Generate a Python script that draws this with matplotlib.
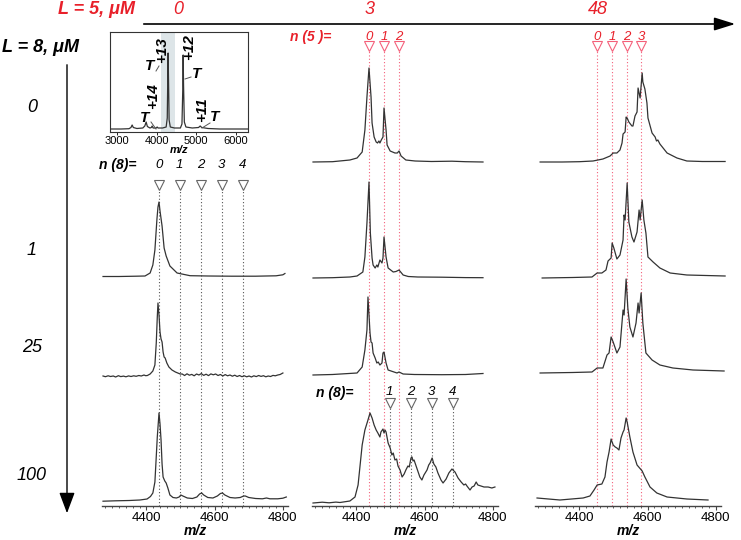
import numpy as np
import matplotlib
matplotlib.use('Agg')
import matplotlib.pyplot as plt
from matplotlib.ticker import MultipleLocator
from matplotlib.patches import FancyArrowPatch
from matplotlib.lines import Line2D

plt.rcParams['font.family'] = ['Liberation Sans', 'DejaVu Sans']

W, H = 741, 540
RED = '#e8202a'
PINK = '#f4607a'
TRACE = '#333333'

# ---- data: (m/z, intensity), one array per spectrum ----
# column = L5 concentration (0, 3, 48 uM), row = L8 concentration (0, 1, 25, 100 uM)
s_0_1 = np.array([(4273, 0.5), (4320, 0.5), (4370, 0.8), (4396, 1.0), (4411, 4), (4419, 12),
                  (4425, 27), (4431, 58), (4434, 70), (4437, 75), (4440, 66), (4446, 51),
                  (4452, 29), (4458, 21), (4469, 11), (4490, 4), (4528, 1.3), (4580, 1.0),
                  (4650, 0.8), (4720, 0.8), (4780, 1.2), (4800, 2.2), (4806, 3.5)])

s_0_25 = np.array([(4273, 1.0), (4280, 0.3), (4288, 1.2), (4295, 0.5), (4303, 1.0), (4310, 0.0),
                   (4318, 1.3), (4325, 0.4), (4333, 0.9), (4340, 0.2), (4348, 1.1), (4355, 0.5),
                   (4363, 1.2), (4370, 0.7), (4378, 1.5), (4385, 1.0), (4393, 2.0), (4398, 1.3),
                   (4403, 1.5), (4411, 3), (4419, 6), (4425, 12), (4429, 34), (4432, 60),
                   (4434, 74), (4437, 62), (4440, 45), (4443, 38), (4446, 35), (4449, 25),
                   (4452, 20), (4455, 19), (4460, 14), (4466, 10), (4475, 7), (4485, 5),
                   (4499, 3), (4505, 3.0), (4512, 1.5), (4519, 3.2), (4526, 1.8), (4533, 2.6),
                   (4540, 1.2), (4547, 3.0), (4554, 2.0), (4561, 3.4), (4568, 1.6), (4575, 2.8),
                   (4582, 1.4), (4589, 3.1), (4596, 2.2), (4603, 3.0), (4610, 1.5), (4617, 2.5),
                   (4624, 1.0), (4631, 2.4), (4638, 1.2), (4645, 2.0), (4652, 0.8), (4659, 1.8),
                   (4666, 0.5), (4673, 1.5), (4680, 0.3), (4687, 1.2), (4694, 0.2), (4701, 1.0),
                   (4708, 0.0), (4715, 1.2), (4722, 0.4), (4729, 1.5), (4736, 0.6), (4743, 1.3),
                   (4750, 0.2), (4757, 1.0), (4764, 0.5), (4771, 1.6), (4778, 1.2), (4785, 2.0),
                   (4792, 2.5), (4800, 4.0)])

s_0_100 = np.array([(4273, 0.8), (4310, 1.2), (4350, 1.5), (4381, 2.0), (4402, 3.0), (4412, 5.5),
                    (4419, 9), (4425, 20), (4428, 39), (4432, 65), (4437, 89), (4440, 78),
                    (4443, 62), (4446, 38), (4449, 25), (4454, 21), (4458, 19), (4463, 14),
                    (4469, 7), (4478, 4.5), (4488, 4), (4496, 5), (4501, 7), (4507, 6),
                    (4520, 4), (4535, 3.5), (4548, 5), (4556, 8), (4562, 9), (4568, 7),
                    (4580, 4.5), (4595, 4), (4608, 6), (4617, 8.5), (4623, 9), (4630, 7),
                    (4645, 4.5), (4660, 4), (4675, 4.5), (4685, 6), (4690, 6), (4700, 4.5),
                    (4720, 3.5), (4740, 3.2), (4752, 4), (4762, 3.2), (4785, 3.2), (4800, 3.8),
                    (4810, 5.0)])

s_3_0 = np.array([(4273, 0), (4330, 0.3), (4381, 2), (4402, 4), (4417, 10), (4425, 32),
                  (4431, 65), (4437, 94), (4443, 65), (4446, 39), (4452, 25), (4458, 20),
                  (4462, 19), (4466, 21), (4469, 19), (4473, 22), (4478, 25), (4481, 54),
                  (4487, 32), (4490, 17), (4499, 11), (4513, 9), (4520, 9), (4525, 11),
                  (4531, 6), (4545, 2), (4572, 1), (4620, 0.5), (4680, 0.8), (4720, 0.3),
                  (4771, 0)])

s_3_1 = np.array([(4273, 0), (4330, 0.3), (4381, 1.0), (4402, 2), (4419, 6), (4425, 21),
                  (4431, 55), (4437, 96), (4441, 45), (4446, 20), (4449, 13), (4455, 10),
                  (4460, 13), (4463, 11), (4469, 18), (4475, 15), (4478, 20), (4481, 41),
                  (4487, 21), (4493, 10), (4508, 6), (4516, 6.5), (4525, 8), (4537, 3),
                  (4552, 1.5), (4580, 1), (4650, 0.8), (4720, 0.4), (4771, 0.3)])

s_3_25 = np.array([(4273, 0), (4330, 0.5), (4402, 2), (4417, 8), (4425, 25), (4431, 45),
                   (4434, 78), (4440, 42), (4443, 33), (4446, 32), (4449, 22), (4455, 17),
                   (4460, 12), (4464, 13), (4469, 10), (4475, 12), (4478, 22), (4481, 23),
                   (4487, 12), (4493, 5), (4519, 2), (4525, 3), (4537, 1), (4570, 0.5),
                   (4650, 0.3), (4720, 0.5), (4771, 1.5)])

s_3_100 = np.array([(4273, 0), (4300, 0.8), (4320, 0.2), (4340, 0.9), (4352, 0.5), (4381, 2),
                    (4396, 6), (4405, 18), (4411, 38), (4417, 58), (4425, 73), (4434, 83),
                    (4440, 90), (4446, 85), (4452, 78), (4458, 73), (4463, 70), (4469, 66),
                    (4472, 71), (4478, 74), (4481, 70), (4484, 73), (4487, 71), (4493, 60),
                    (4499, 55), (4504, 48), (4508, 50), (4513, 43), (4518, 44), (4522, 37),
                    (4528, 33), (4534, 26), (4540, 29), (4545, 33), (4551, 37), (4555, 36),
                    (4560, 45), (4563, 46), (4566, 42), (4569, 43), (4575, 37), (4581, 31),
                    (4586, 26), (4592, 23), (4598, 28), (4607, 33), (4612, 38), (4616, 40),
                    (4622, 45), (4627, 39), (4633, 36), (4639, 30), (4648, 23), (4654, 20),
                    (4663, 24), (4671, 30), (4680, 34), (4689, 31), (4698, 25), (4707, 21),
                    (4715, 18), (4720, 19), (4724, 17), (4733, 13), (4739, 16), (4745, 17),
                    (4751, 21), (4756, 18), (4765, 17), (4774, 16), (4786, 16), (4797, 15),
                    (4806, 16)])

s_48_0 = np.array([(4285, 0), (4350, 0), (4400, 0.3), (4440, 1), (4469, 3), (4490, 6),
                   (4499, 9), (4510, 9), (4519, 12), (4525, 19), (4528, 28), (4534, 30),
                   (4537, 45), (4540, 44), (4545, 40), (4554, 36), (4557, 36), (4563, 46),
                   (4569, 50), (4572, 74), (4578, 64), (4584, 89), (4586, 80), (4592, 73),
                   (4598, 59), (4601, 44), (4613, 29), (4622, 25), (4626, 21), (4630, 22),
                   (4636, 18), (4657, 9), (4686, 4), (4715, 1), (4760, 0.5), (4827, 0.5)])

s_48_1 = np.array([(4291, 0), (4380, 0.5), (4437, 1), (4452, 5), (4466, 5), (4478, 8),
                   (4484, 17), (4493, 20), (4496, 35), (4501, 30), (4510, 19), (4519, 23),
                   (4528, 38), (4531, 63), (4534, 58), (4540, 95), (4545, 56), (4554, 41),
                   (4560, 36), (4569, 46), (4575, 68), (4578, 58), (4584, 78), (4589, 58),
                   (4595, 45), (4601, 21), (4616, 16), (4636, 10), (4666, 5), (4715, 3),
                   (4827, 2)])

s_48_25 = np.array([(4285, 0), (4380, 0.5), (4437, 1), (4452, 5), (4469, 5), (4481, 18),
                    (4487, 20), (4493, 36), (4499, 31), (4510, 20), (4519, 26), (4528, 63),
                    (4531, 58), (4537, 94), (4542, 65), (4548, 46), (4557, 36), (4566, 50),
                    (4572, 70), (4575, 60), (4581, 80), (4586, 50), (4595, 20), (4613, 13),
                    (4636, 8), (4674, 5), (4733, 3), (4824, 2)])

s_48_100 = np.array([(4276, 3), (4343, 1), (4411, 3), (4431, 5), (4443, 11), (4452, 16),
                     (4466, 17), (4475, 24), (4481, 39), (4487, 49), (4493, 62), (4499, 56),
                     (4505, 54), (4510, 53), (4516, 51), (4522, 63), (4528, 69), (4531, 71),
                     (4537, 83), (4540, 79), (4548, 64), (4557, 49), (4569, 36), (4584, 30),
                     (4592, 24), (4607, 14), (4627, 8), (4657, 4), (4715, 2), (4777, 1)])

# full-range spectrum of the protein alone (inset)
s_full = np.array([(2830, 1), (3100, 1), (3300, 1.3), (3350, 2.5), (3380, 5), (3410, 2.5),
                   (3500, 1.5), (3650, 2), (3700, 4), (3734, 8), (3765, 3.5), (3830, 2),
                   (3865, 2.5), (3886, 4), (3910, 2), (3990, 2), (4012, 3), (4035, 2),
                   (4150, 2), (4240, 3), (4268, 12), (4282, 55), (4290, 77), (4300, 50),
                   (4315, 10), (4345, 3), (4450, 2), (4600, 2), (4640, 6), (4660, 40),
                   (4670, 75), (4680, 45), (4700, 8), (4740, 3), (4900, 2), (5060, 2.5),
                   (5100, 4), (5140, 2.5), (5300, 1.5), (5600, 1), (6000, 1), (6300, 1)])
selected_window = (4113, 4467)

col_labels = ['0', '3', '48']
row_labels = ['0', '1', '25', '100']
n8_mz = [4436, 4498, 4560, 4621, 4683]
n5_mz_col2 = [4437, 4481, 4525]
n5_mz_col3 = [4452, 4496, 4540, 4581]

spectra = {(0, 1): s_0_1, (0, 2): s_0_25, (0, 3): s_0_100,
           (1, 0): s_3_0, (1, 1): s_3_1, (1, 2): s_3_25, (1, 3): s_3_100,
           (2, 0): s_48_0, (2, 1): s_48_1, (2, 2): s_48_25, (2, 3): s_48_100}

# ---- layout (pixel positions in the 741x540 picture) ----
col_x0 = [102, 312, 535]
AXW = 186
AXB = 506            # y of the m/z axis line
row_off = {(0, 1): 229, (0, 2): 129, (0, 3): 4,
           (1, 0): 344, (1, 1): 228, (1, 2): 131, (1, 3): 3,
           (2, 0): 344, (2, 1): 228, (2, 2): 133, (2, 3): 5}


def fp(x, y):
    return x / W, 1 - y / H


def yd(y):
    # picture y -> data height above the axis
    return AXB - y


fig = plt.figure(figsize=(W / 100, H / 100), dpi=100)

axes = []
for c, x0 in enumerate(col_x0):
    ax = fig.add_axes([x0 / W, 1 - AXB / H, AXW / W, AXB / H])
    ax.set_xlim(4270, 4815)
    ax.set_ylim(0, AXB)
    ax.patch.set_visible(False)
    for s in ('top', 'left', 'right'):
        ax.spines[s].set_visible(False)
    ax.spines['bottom'].set_color('#444444')
    ax.spines['bottom'].set_linewidth(1.0)
    ax.set_yticks([])
    ax.xaxis.set_major_locator(MultipleLocator(200))
    ax.xaxis.set_minor_locator(MultipleLocator(20))
    ax.tick_params(axis='x', which='major', length=3, width=0.8, color='#444444',
                   labelsize=9.5, pad=1.5)
    ax.tick_params(axis='x', which='minor', length=1.5, width=0.6, color='#444444')
    ax.set_xlabel('m/z', fontsize=10, fontweight='bold', fontstyle='italic', labelpad=0)
    axes.append(ax)

dots = (0, (1, 2))

# n(8) markers, column 1
ax = axes[0]
for k, m in enumerate(n8_mz):
    ax.vlines(m, 0, yd(189), colors='#555555', linestyles=dots, lw=0.8)
    ax.plot(m, yd(185), 'v', ms=6.5, mfc='white', mec='#666666', mew=0.8, clip_on=False)
    ax.text(m, yd(165), str(k), ha='center', va='center', style='italic', fontsize=9.5)
fig.text(*fp(118, 165), 'n (8)=', ha='center', va='center', fontsize=10,
         fontweight='bold', style='italic')

# n(5) markers, columns 2 and 3
for ax, marks in ((axes[1], n5_mz_col2), (axes[2], n5_mz_col3)):
    for k, m in enumerate(marks):
        ax.vlines(m, 0, yd(50), colors=PINK, linestyles=dots, lw=0.8)
        ax.plot(m, yd(46), 'v', ms=6.5, mfc='white', mec=PINK, mew=0.8, clip_on=False)
        ax.text(m, yd(37), str(k), ha='center', va='center', style='italic',
                fontsize=9.5, color=RED)
fig.text(*fp(311, 37), 'n (5 )=', ha='center', va='center', fontsize=10,
         fontweight='bold', style='italic', color=RED)

# n(8) markers, column 2 bottom
ax = axes[1]
for k, m in enumerate(n8_mz[1:], start=1):
    ax.vlines(m, 0, yd(407), colors='#555555', linestyles=dots, lw=0.8)
    ax.plot(m, yd(403), 'v', ms=6.5, mfc='white', mec='#666666', mew=0.8, clip_on=False)
    ax.text(m, yd(392), str(k), ha='center', va='center', style='italic', fontsize=9.5)
fig.text(*fp(335, 393), 'n (8)=', ha='center', va='center', fontsize=10,
         fontweight='bold', style='italic')

# spectra
for (c, r), sp in spectra.items():
    axes[c].plot(sp[:, 0], sp[:, 1] + row_off[(c, r)], color=TRACE, lw=0.9,
                 clip_on=False, zorder=3)

# inset: full spectrum
ax_in = fig.add_axes([110 / W, 1 - 132 / H, 138 / W, 100 / H])
ax_in.set_facecolor('white')
ax_in.axvspan(*selected_window, color='#dde5e8', lw=0)
ax_in.plot(s_full[:, 0], s_full[:, 1], color=TRACE, lw=0.9)
ax_in.set_xlim(2820, 6310)
ax_in.set_ylim(-2, 98)
ax_in.set_yticks([])
ax_in.set_xticks([3000, 4000, 5000, 6000])
ax_in.tick_params(axis='x', length=2, width=0.6, labelsize=8, pad=1)
for s in ax_in.spines.values():
    s.set_linewidth(0.8)
    s.set_color('#333333')
ax_in.set_xlabel('m/z', fontsize=8, fontweight='bold', fontstyle='italic', labelpad=-1)

lab = dict(ha='center', va='center', fontsize=11, fontweight='bold', style='italic')
fig.text(*fp(162, 50), '+13', rotation=90, **lab)
fig.text(*fp(189, 47), '+12', rotation=90, **lab)
fig.text(*fp(153, 96), '+14', rotation=90, **lab)
fig.text(*fp(202, 110), '+11', rotation=90, **lab)
for (tx, ty), (x1, y1, x2, y2) in (((150, 66), (156, 71, 159, 66)),
                                   ((197, 74), (185, 79, 191, 77)),
                                   ((145, 118), (151, 122, 156, 129)),
                                   ((215, 117), (202, 128, 210, 123))):
    fig.text(*fp(tx, ty), 'T', **lab)
    fig.add_artist(Line2D([x1 / W, x2 / W], [1 - y1 / H, 1 - y2 / H], color='#555555',
                          lw=0.7, transform=fig.transFigure))

# headers and arrows
fig.text(*fp(97, 10), 'L = 5, μM', ha='center', va='center', fontsize=13,
         fontweight='bold', style='italic', color=RED)
for lbl, x in zip(col_labels, (178, 370, 598)):
    fig.text(*fp(x, 10), lbl, ha='center', va='center', fontsize=13, style='italic', color=RED)
fig.add_artist(FancyArrowPatch(fp(141, 24), fp(738, 24), transform=fig.transFigure,
                               arrowstyle='-|>,head_length=0.8,head_width=0.25',
                               mutation_scale=16, lw=1.2, color='black'))

fig.text(*fp(41, 47), 'L = 8, μM', ha='center', va='center', fontsize=13,
         fontweight='bold', style='italic')
for lbl, y in zip(row_labels, (108, 250, 347, 475)):
    fig.text(*fp(32, y), lbl, ha='center', va='center', fontsize=13, style='italic')
fig.add_artist(FancyArrowPatch(fp(67, 62), fp(67, 516), transform=fig.transFigure,
                               arrowstyle='-|>,head_length=0.8,head_width=0.3',
                               mutation_scale=16, lw=1.0, color='black'))

fig.savefig('out.png', dpi=100)
